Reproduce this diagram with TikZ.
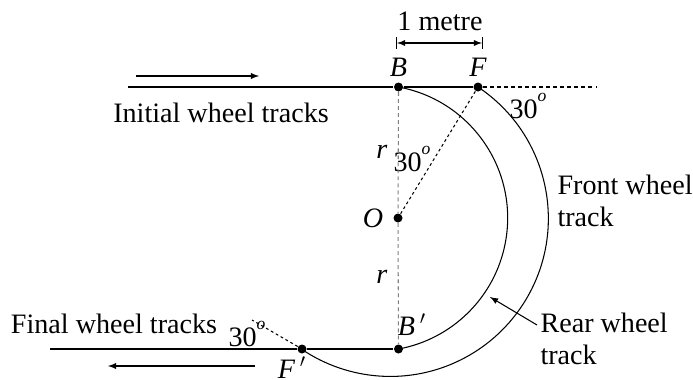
\documentclass[tikz,border=0pt]{standalone}
\usepackage{fontspec}
\setmainfont{Liberation Serif}
\usetikzlibrary{arrows}

\newcommand{\dego}{\raisebox{0.62em}{\fontsize{10}{10}\selectfont\itshape o}}

\tikzset{
  dot/.style={circle,fill,inner sep=0pt,minimum size=0.18cm},
  deg/.style={inner sep=0pt},
  guide/.style={dashed,dash pattern=on 2.2pt off 1.8pt},
}

\begin{document}
\begin{tikzpicture}[>=latex, line width=0.6pt, inner sep=0pt,
    font=\fontsize{16}{18.2}\selectfont]
    \useasboundingbox (0,0) rectangle (13.86,7.58);

    \node at (7.97, 5.84) (B) [dot] {};
    \node at (9.56, 5.84) (F) [dot] {};
    \node at (7.96, 3.22) (O) [dot] {};
    \node at (7.97, 0.60) (Bp) [dot] {};
    \node at (6.04, 0.60) (Fp) [dot] {};

    \coordinate (topStart) at (2.56, 5.84);
    \coordinate (topEnd) at (11.92, 5.84);
    \coordinate (botStart) at (1.00, 0.60);
    \coordinate (FpRay) at (5.04, 1.18);
    \coordinate (dimL) at (7.92, 6.72);
    \coordinate (dimR) at (9.66, 6.72);
    \coordinate (goA) at (2.72, 6.06);
    \coordinate (goB) at (5.18, 6.06);
    \coordinate (backA) at (5.10, 0.26);
    \coordinate (backB) at (2.16, 0.26);
    \coordinate (rearTail) at (10.74, 1.08);
    \coordinate (rearTip) at (9.80, 1.64);

    \node at (7.97, 6.23) (Blabel) {\textit{B}};
    \node at (9.56, 6.23) (Flabel) {\textit{F}};
    \node at (7.46, 3.22) (Olabel) {\textit{O}};
    \node at (8.24, 1.08) (Bplabel) {\textit{B}\,$'$};
    \node at (5.84, 0.23) (Fplabel) {\textit{F}\,$'$};
    \node at (7.64, 4.54) (rTop) {\textit{r}};
    \node at (7.64, 2.04) (rBot) {\textit{r}};
    \node at (8.24, 4.40) (angO) [deg] {30\dego};
    \node at (10.56, 5.46) (angF) [deg] {30\dego};
    \node at (4.94, 0.90) (angFp) [deg] {30\dego};
    \node at (8.80, 7.15) (metre) {1 metre};
    \node at (4.42, 5.33) (initTracks) {Initial wheel tracks};
    \node at (2.28, 1.10) (finalTracks) {Final wheel tracks};
    \node at (11.14, 3.56) (frontTrack) [anchor=west, align=left] {Front wheel\\track};
    \node at (10.80, 0.80) (rearTrack) [anchor=west, align=left] {Rear wheel\\track};

    \draw (topStart) -- (B) -- (F);
    \draw (botStart) -- (Fp) -- (Bp);
    \draw[guide] (F) -- (topEnd);
    \draw[guide, dash pattern=on 1.6pt off 1.6pt] (O) -- (F);
    \draw[guide, dash pattern=on 1.6pt off 1.6pt] (Fp) -- (FpRay);
    \draw[guide, gray] (B) -- (O) -- (Bp);

    \draw (B.center) arc[start angle=79.6, end angle=-79.6, radius=2.664];
    \draw (F.center) arc[start angle=56.3, end angle=-124, radius=3.16];

    \draw[|<->|] (dimL) -- (dimR);
    \draw[->] (goA) -- (goB);
    \draw[->] (backA) -- (backB);
    \draw[->] (rearTail) -- (rearTip);
  \end{tikzpicture}
\end{document}
